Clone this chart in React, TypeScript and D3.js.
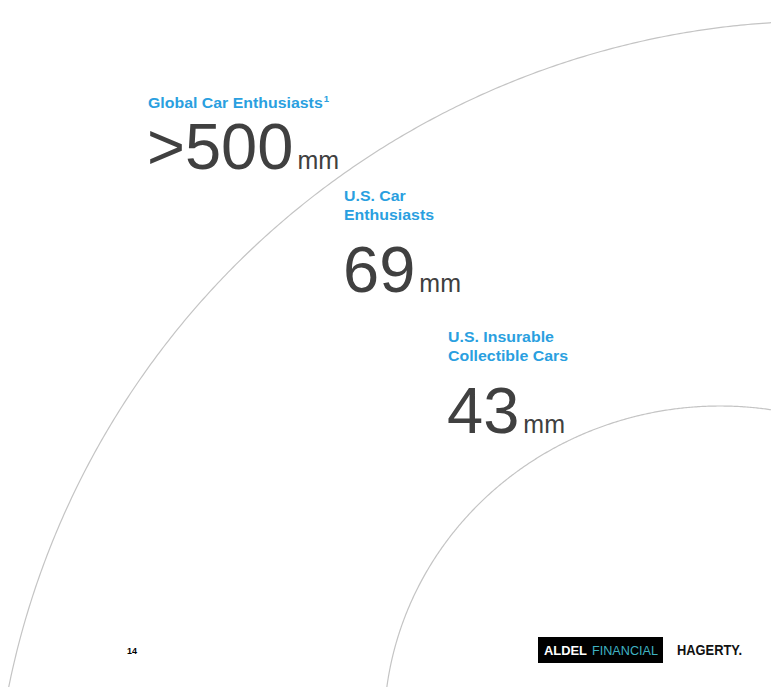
import React from "react";
import * as d3 from "d3";

// ---- data ----
const labelLines: string[][] = [
  ["Global Car Enthusiasts"],
  ["U.S. Car", "Enthusiasts"],
  ["U.S. Insurable", "Collectible Cars"],
];
const footnoteMarks = ["1", "", ""];
const values = [">500", "69", "43"];
const units = ["mm", "mm", "mm"];
const pageNumber = "14";
const logoLeft = ["ALDEL", "FINANCIAL"];
const logoRight = "HAGERTY.";

// ---- layout ----
const W = 771;
const H = 687;
const blockX = [147, 343, 447];
const labelY = [108, 201, 342];
const valueY = [169, 292, 433];
const rings = [
  { cx: 824, cy: 853, rx: 832, ry: 832 },
  { cx: 720, cy: 729, rx: 336, ry: 323 },
];

const BLUE = "#2A9FE0";
const GREY = "#404040";
const FONT = "'Liberation Sans', Arial, Helvetica, sans-serif";

function ringPath(r: { cx: number; cy: number; rx: number; ry: number }) {
  const angles = d3.range(0, Math.PI * 2 + 0.001, Math.PI / 720);
  const line = d3
    .line<number>()
    .x((a) => r.cx + r.rx * Math.cos(a))
    .y((a) => r.cy + r.ry * Math.sin(a));
  return line(angles) || "";
}

export default function App() {
  return (
    <svg
      width={W}
      height={H}
      viewBox={`0 0 ${W} ${H}`}
      style={{ position: "absolute", left: 0, top: 0, background: "#fff" }}
      fontFamily={FONT}
    >
      <rect x={0} y={0} width={W} height={H} fill="#fff" />
      {rings.map((r, i) => (
        <path key={i} d={ringPath(r)} fill="none" stroke="#C4C4C4" strokeWidth={1.2} />
      ))}

      {values.map((v, i) => (
        <g key={i}>
          {labelLines[i].map((line, j) => (
            <text
              key={j}
              transform={`translate(${blockX[i] + 1},${labelY[i] + j * 19}) scale(1.06,1)`}
              fontSize={15}
              fontWeight="bold"
              fill={BLUE}
            >
              {line}
              {j === labelLines[i].length - 1 && footnoteMarks[i] ? (
                <tspan fontSize={9} dx={1} dy={-6}>
                  {footnoteMarks[i]}
                </tspan>
              ) : null}
            </text>
          ))}
          <text x={blockX[i]} y={valueY[i]} fill={GREY} fontSize={65}>
            {v}
            <tspan fontSize={25} dx={4}>
              {units[i]}
            </tspan>
          </text>
        </g>
      ))}

      <text x={127} y={654} fontSize={9} fontWeight="bold" fill="#000">
        {pageNumber}
      </text>

      <rect x={538} y={637} width={125} height={26} fill="#000" />
      <text x={544} y={655} fontSize={12} fontWeight="bold" fill="#fff" textLength={43} lengthAdjust="spacingAndGlyphs">
        {logoLeft[0]}
      </text>
      <text x={592} y={655} fontSize={12} fill="#3FB2C2" textLength={66} lengthAdjust="spacingAndGlyphs">
        {logoLeft[1]}
      </text>
      <text x={677} y={655} fontSize={15} fontWeight="bold" fill="#111" textLength={65} lengthAdjust="spacingAndGlyphs">
        {logoRight}
      </text>
    </svg>
  );
}
